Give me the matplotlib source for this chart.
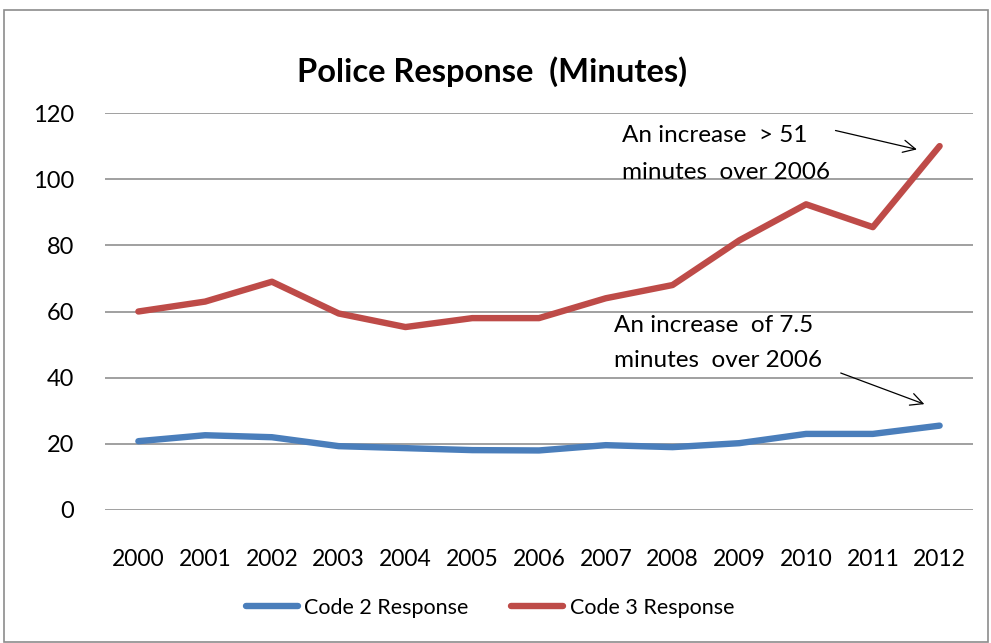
import matplotlib
matplotlib.use("Agg")
import matplotlib.pyplot as plt
from matplotlib.patches import Rectangle

years = ["2000", "2001", "2002", "2003", "2004", "2005", "2006",
         "2007", "2008", "2009", "2010", "2011", "2012"]
code2 = [20.8, 22.6, 22.0, 19.3, 18.7, 18.1, 18.0, 19.6, 19.0, 20.2, 23.0, 23.0, 25.5]
code3 = [60.0, 63.0, 69.0, 59.4, 55.3, 58.0, 58.0, 64.0, 68.0, 81.5, 92.4, 85.5, 110.0]
y_ticks = [0, 20, 40, 60, 80, 100, 120]

plt.rcParams["font.family"] = ["Lato", "DejaVu Sans"]

W, H = 991, 643
fig = plt.figure(figsize=(W / 100, H / 100), dpi=100)
ax = fig.add_axes([105 / W, 1 - 510 / H, (973 - 105) / W, (510 - 113) / H])

x = list(range(len(years)))
ax.plot(x, code2, color="#4A7EBB", lw=4.6, solid_capstyle="round",
        solid_joinstyle="round", label="Code 2 Response", zorder=3)
ax.plot(x, code3, color="#BE4B48", lw=4.6, solid_capstyle="round",
        solid_joinstyle="round", label="Code 3 Response", zorder=3)

ax.set_xlim(-0.5, len(years) - 0.5)
ax.set_ylim(0, 120)
ax.set_yticks(y_ticks)
ax.set_yticklabels([str(v) for v in y_ticks], fontsize=17)
ax.set_xticks(x)
ax.set_xticklabels(years, fontsize=16.5)
ax.tick_params(axis="y", length=0, pad=22)
ax.tick_params(axis="x", length=0, pad=28)
ax.grid(axis="y", color="#868686", lw=1.1)
ax.set_axisbelow(True)
for s in ax.spines.values():
    s.set_visible(False)

fig.text(492 / W, 1 - 72 / H, "Police Response  (Minutes)", ha="center",
         va="center", fontsize=23.5, fontweight="bold")

# Annotation text, one line at a time
note_kw = dict(fontsize=17.5, ha="left", va="center")
ax.text(7.25, 113.2, "An increase  > 51", **note_kw)
ax.text(7.25, 102.0, "minutes  over 2006", **note_kw)
ax.text(7.13, 55.9, "An increase  of 7.5", **note_kw)
ax.text(7.13, 45.3, "minutes  over 2006", **note_kw)
ax.annotate("", xy=(11.7, 108.8), xytext=(10.4, 114.9),
            arrowprops=dict(arrowstyle="->", color="black", lw=0.9,
                            mutation_scale=22))
ax.annotate("", xy=(11.81, 31.7), xytext=(10.48, 41.7),
            arrowprops=dict(arrowstyle="->", color="black", lw=0.9,
                            mutation_scale=22))

fig.legend(loc="center", bbox_to_anchor=(490 / W, 1 - 608 / H), ncol=2,
           frameon=False, fontsize=15.5, handlelength=2.4, columnspacing=2.0,
           handletextpad=0.3)

fig.patches.append(Rectangle((4 / W, 1 / H), (988 - 4) / W, (633 - 1) / H,
                             transform=fig.transFigure, fill=False,
                             edgecolor="#8c8c8c", lw=1.2))

fig.savefig("out.png", dpi=100, facecolor="white")
